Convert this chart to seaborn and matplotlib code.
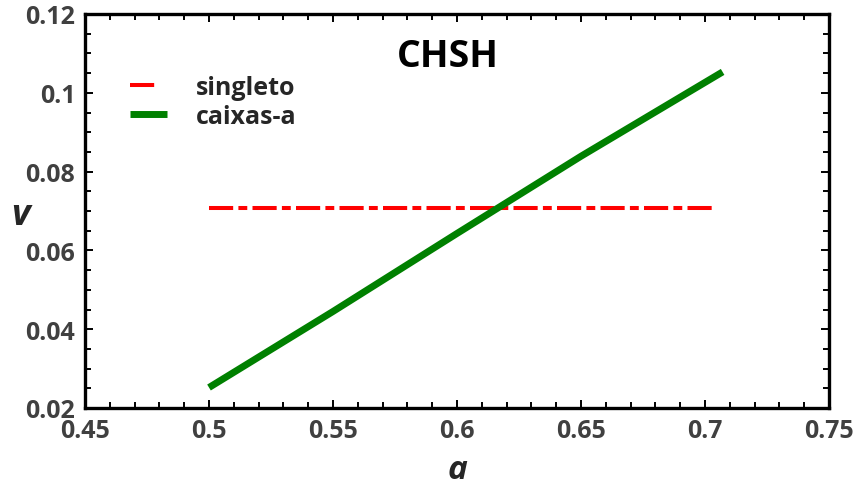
import matplotlib
matplotlib.use("Agg")
import matplotlib.pyplot as plt
import seaborn as sns
import pandas as pd
from matplotlib.ticker import MultipleLocator, FuncFormatter

# data
a_singleto = [0.5, 0.7035]
v_singleto = [0.0707, 0.0707]
a_caixas = [0.5, 0.55, 0.6, 0.65, 0.7071]
v_caixas = [0.0252, 0.0445, 0.0643, 0.0839, 0.1053]
labels = ["singleto", "caixas-a"]
title = "CHSH"

sns.set_style("ticks")
plt.rcParams['font.family'] = ['Open Sans', 'DejaVu Sans']
plt.rcParams['font.weight'] = 'bold'

fig = plt.figure(figsize=(8.55, 4.89), dpi=100)
ax = fig.add_subplot(111)
fig.subplots_adjust(left=85/855, right=829/855, top=1-15/489, bottom=1-409/489)

df1 = pd.DataFrame({"a": a_singleto, "v": v_singleto})
df2 = pd.DataFrame({"a": a_caixas, "v": v_caixas})
sns.lineplot(data=df1, x="a", y="v", ax=ax, color="#ff0000", lw=2.9,
             label=labels[0], sort=True)
sns.lineplot(data=df2, x="a", y="v", ax=ax, color="#008000", lw=5.0,
             label=labels[1], sort=True)
l1 = ax.lines[0]
l1.set_dashes((6.0, 1.3, 2.2, 1.3))
l1.set_dash_capstyle("butt")
ax.lines[1].set_solid_capstyle("butt")

ax.set_xlim(0.45, 0.75)
ax.set_ylim(0.02, 0.12)
ax.xaxis.set_major_locator(MultipleLocator(0.05))
ax.xaxis.set_minor_locator(MultipleLocator(0.01))
ax.yaxis.set_major_locator(MultipleLocator(0.02))
ax.yaxis.set_minor_locator(MultipleLocator(0.005))
fmt = FuncFormatter(lambda x, p: ("%.3f" % x).rstrip("0").rstrip("."))
ax.xaxis.set_major_formatter(fmt)
ax.yaxis.set_major_formatter(fmt)

for s in ax.spines.values():
    s.set_visible(True)
    s.set_linewidth(2.4)
    s.set_color("black")
ax.tick_params(which="both", direction="in", top=True, right=True,
               color="black", width=1.4)
ax.tick_params(which="major", length=6, labelsize=18, labelcolor="#404040", pad=7)
ax.tick_params(which="minor", length=4)
for t in ax.get_xticklabels() + ax.get_yticklabels():
    t.set_fontweight("bold")

ax.set_xlabel("a", fontsize=24, fontweight="bold", fontstyle="italic", va="center")
ax.xaxis.set_label_coords(0.5, -0.155)
ax.set_ylabel("v", fontsize=26, fontweight="bold", fontstyle="italic",
              rotation=0, va="center", ha="center")
ax.yaxis.set_label_coords(-0.087, 0.49)
ax.text(0.5964, 0.1093, title, fontsize=27, fontweight="bold", ha="center",
        va="center", color="black")

leg = ax.legend(loc="upper left", bbox_to_anchor=(0.06, 0.845), frameon=False,
                fontsize=18, handlelength=1.5, handletextpad=1.15,
                labelspacing=0.15, borderpad=0, borderaxespad=0)
for t in leg.get_texts():
    t.set_fontweight("bold")
leg_lines = leg.get_lines()
leg_lines[0].set_dashes((6.0, 10.0))
leg_lines[0].set_dash_capstyle("butt")
leg_lines[1].set_solid_capstyle("butt")

fig.savefig("out.png", dpi=100)
